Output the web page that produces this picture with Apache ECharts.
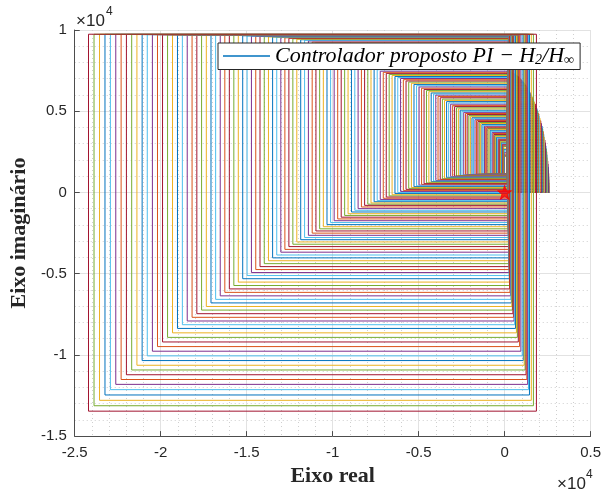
<!DOCTYPE html>
<html><head><meta charset="utf-8">
<script src="https://cdn.jsdelivr.net/npm/echarts@6/dist/echarts.min.js"></script>
<style>html,body{margin:0;padding:0;background:#fff}#c{width:604px;height:492px}</style>
</head><body><div id="c"></div>
<script>
// Each closed curve (inner -> outer): left edge x, top y, bottom y, right edge x
const leftX = [
-1,-4,-10,-17,-27,-39,-53,-69,-87,-108,
-130,-155,-182,-211,-242,-275,-311,-348,-388,-430,
-474,-521,-569,-620,-672,-727,-784,-843,-905,-968,
-1034,-1101,-1171,-1243,-1318,-1394,-1472,-1553,-1636,-1721,
-1808,-1897,-1989,-2082,-2178,-2276,-2376,-2478,-2582,-2689,
-2798,-2908,-3021,-3136,-3254,-3373,-3495,-3618,-3744,-3872,
-4002,-4135,-4269,-4406,-4544,-4685,-4828,-4974,-5121,-5270,
-5422,-5576,-5732,-5890,-6050,-6213,-6377,-6544,-6713,-6884,
-7057,-7232,-7410,-7589,-7771,-7955,-8141,-8329,-8520,-8712,
-8907,-9104,-9303,-9504,-9707,-9913,-10120,-10330,-10542,-10756,
-10972,-11191,-11411,-11633,-11858,-12085,-12315,-12546,-12779,-13015,
-13252,-13492,-13734,-13978,-14225,-14473,-14724,-14976,-15231,-15488,
-15748,-16009,-16272,-16538,-16806,-17076,-17348,-17623,-17899,-18177,
-18458,-18741,-19025,-19313,-19602,-19894,-20188,-20484,-20782,-21081,
-21384,-21688,-21995,-22303,-22614,-22927,-23242,-23559,-23879,-24200];
const topY = [
2210,2240,2300,2370,2470,2550,2630,2720,2830,2910,
2945,2980,3025,3065,3110,3160,3210,3255,3300,3350,
3400,3455,3510,3570,3630,3695,3760,3830,3885,3930,
3980,4030,4080,4135,4190,4245,4305,4365,4425,4480,
4540,4600,4665,4730,4795,4860,4930,4995,5065,5140,
5210,5285,5360,5435,5510,5590,5665,5745,5830,5910,
5990,6060,6125,6200,6270,6340,6415,6495,6570,6650,
6720,6795,6865,6940,7015,7075,7140,7200,7265,7330,
7395,7465,7555,7645,7735,7830,7920,8015,8110,8215,
8315,8420,8530,8635,8745,8855,8935,9000,9065,9125,
9190,9255,9325,9370,9400,9430,9460,9490,9520,9550,
9560,9570,9580,9590,9605,9615,9625,9635,9645,9660,
9670,9680,9682,9684,9686,9688,9690,9692,9694,9696,
9698,9700,9702,9704,9706,9708,9711,9713,9715,9717,
9719,9722,9724,9726,9728,9731,9733,9735,9738,9740];
const bottomY = [
1150,1150,1150,1150,1149,1149,1149,1148,1148,1148,
1147,1146,1146,1145,1145,1144,1143,1142,1141,1140,
1139,1138,1137,1136,1135,1133,1132,1131,1129,1128,
1127,1125,1123,1122,1120,1118,1117,1115,1113,1111,
1109,1107,1105,1103,1100,1089,1075,1060,1045,1030,
1014,999,983,966,940,907,874,840,806,771,
736,700,663,626,586,542,496,450,403,356,
308,252,189,126,62,-3,-71,-141,-212,-284,
-356,-429,-501,-573,-647,-721,-796,-896,-998,-1100,
-1204,-1309,-1416,-1523,-1631,-1741,-1854,-1982,-2110,-2240,
-2371,-2505,-2639,-2774,-2910,-3048,-3188,-3334,-3505,-3678,
-3852,-4028,-4205,-4384,-4566,-4748,-4932,-5117,-5312,-5519,
-5729,-5939,-6152,-6366,-6583,-6801,-7020,-7242,-7465,-7688,
-7914,-8143,-8372,-8644,-8923,-9205,-9489,-9774,-10062,-10350,
-10639,-10929,-11223,-11516,-11815,-12140,-12468,-12797,-13131,-13465];
const rightX = [
150,150,150,150,150,150,150,150,150,150,
150,150,150,150,150,150,150,150,150,150,
150,150,150,150,150,150,150,150,150,150,
150,150,150,150,150,150,150,150,150,150,
151,151,151,151,151,151,151,152,152,152,
152,153,153,153,154,154,155,155,156,157,
157,158,159,159,160,161,162,162,163,164,
165,166,167,168,169,170,171,173,174,175,
176,178,179,180,182,183,184,186,188,190,
191,193,195,196,198,200,202,204,206,208,
210,212,214,216,219,221,224,228,232,236,
240,244,248,253,257,261,266,270,275,280,
285,290,314,341,368,395,423,451,483,515,
548,588,633,687,742,797,871,947,1023,1087,
1140,1193,1247,1293,1340,1391,1446,1554,1676,1850];
// Stair corners along the arc in the upper right
const arcX = [2599,2596,2592,2586,2578,2568,2556,2543,2528,2511,2493,2473,2451,2427,2402,2375,2347,2317,2285,2252,
2217,2181,2143,2103,2063,2021,1977,1932,1886,1838,1790,1740,1689,1636,1583,1528,1473,1416,1359,1300,
1241,1180,1119,1058,995,932,868,803,738,673,607,541,474,407,339,272,204];
const arcY = [196,393,588,784,979,1173,1367,1559,1751,1941,2130,2318,2504,2688,2870,3051,3229,3405,3579,3750,
3919,4085,4248,4408,4566,4720,4871,5018,5163,5303,5440,5574,5703,5829,5950,6068,6181,6290,6395,6495,
6591,6683,6769,6852,6929,7002,7070,7133,7191,7244,7293,7336,7374,7408,7436,7459,7477];
const starPoint = [[0, 0]];
const xTicks = [-25000, -20000, -15000, -10000, -5000, 0, 5000];
const yTicks = [-15000, -10000, -5000, 0, 5000, 10000];
const LEG = 'Controlador proposto PI - H2/Hinf';

const colors = ['#0072BD','#D95319','#EDB120','#7E2F8E','#77AC30','#4DBEEE','#A2142F'];
const N = leftX.length;
const series = [];
const base = rightX[0];
for (let i = 0; i < arcX.length; i++) {
  series.push({type:'line', silent:true, symbol:'none', animation:false, z:2,
    lineStyle:{width:1, color: colors[(i*3) % 7]},
    data:[[base, arcY[i]], [arcX[i], arcY[i]], [arcX[i], 0], [base, 0]]});
}
for (let i = 0; i < N; i++) {
  const c = colors[(((6 + 2*(i-(N-1))) % 7) + 7) % 7];
  series.push({type:'line', silent:true, symbol:'none', animation:false, z:2,
    lineStyle:{width:1, color:c},
    data:[[rightX[i], bottomY[i]], [leftX[i], bottomY[i]], [leftX[i], topY[i]], [rightX[i], topY[i]], [rightX[i], bottomY[i]]]});
}
series.push({type:'scatter', silent:true, animation:false, z:5, data:starPoint,
  symbol:'path://M50,0 L61,35 L98,35 L68,57 L79,91 L50,70 L21,91 L32,57 L2,35 L39,35 Z',
  symbolSize:14, itemStyle:{color:'#ff0000', borderColor:'#ff0000', borderWidth:1}});
series.push({name:LEG, type:'line', data:[], symbol:'none', color:'#0072BD', lineStyle:{width:1, color:'#0072BD'}});

const fmt = v => String(+(v/1e4).toFixed(1));
const axisCommon = {
  axisLine:{show:true, onZero:false, lineStyle:{color:'#4d4d4d', width:1}},
  axisTick:{show:true, inside:true, length:5, lineStyle:{color:'#4d4d4d'}},
  splitLine:{show:true, lineStyle:{color:'#e2e2e2', width:1}},
  minorTick:{show:false, splitNumber:5},
  minorSplitLine:{show:true, lineStyle:{color:'#cfcfcf', width:1, type:[1,3]}},
};
const chart = echarts.init(document.getElementById('c'), null, {renderer:'canvas'});
chart.setOption({
  animation:false,
  backgroundColor:'#fff',
  grid:{left:74, right:9, top:30, bottom:50, containLabel:false},
  xAxis:Object.assign({type:'value', min:xTicks[0], max:xTicks[xTicks.length-1], interval:xTicks[1]-xTicks[0],
    axisLabel:{formatter:fmt, color:'#262626', fontSize:15, fontFamily:'Liberation Sans', margin:9, hideOverlap:false},
    name:'Eixo real', nameLocation:'middle', nameGap:27,
    nameTextStyle:{fontFamily:'Liberation Serif', fontWeight:'bold', fontSize:22, color:'#262626'}}, axisCommon),
  yAxis:Object.assign({type:'value', min:yTicks[0], max:yTicks[yTicks.length-1], interval:yTicks[1]-yTicks[0],
    axisLabel:{formatter:fmt, color:'#262626', fontSize:15, fontFamily:'Liberation Sans', margin:8},
    name:'Eixo imaginário', nameLocation:'middle', nameGap:40,
    nameTextStyle:{fontFamily:'Liberation Serif', fontWeight:'bold', fontSize:22, color:'#262626'}}, axisCommon),
  legend:{
    data:[{name:LEG, icon:'rect'}], left:218, top:43, orient:'horizontal',
    backgroundColor:'#fff', borderColor:'#262626', borderWidth:1, borderRadius:0,
    padding:[2,6,2,5], itemWidth:47, itemHeight:1.3, itemGap:0,
    formatter:() => '{a|Controlador proposto PI \u2212 H}{s|2}{a|/H}{s|\u221e}',
    textStyle:{rich:{
      a:{fontFamily:'Liberation Serif', fontStyle:'italic', fontSize:22, color:'#000', lineHeight:23},
      s:{fontFamily:'Liberation Serif', fontStyle:'italic', fontSize:14, color:'#000', lineHeight:10, verticalAlign:'bottom'}
    }}
  },
  graphic:[
    {type:'text', left:76, top:13, style:{text:'\u00d710', fontSize:17, fontFamily:'Liberation Sans', fill:'#262626'}},
    {type:'text', left:106, top:6, style:{text:'4', fontSize:12, fontFamily:'Liberation Sans', fill:'#262626'}},
    {type:'text', left:557, top:476, style:{text:'\u00d710', fontSize:17, fontFamily:'Liberation Sans', fill:'#262626'}},
    {type:'text', left:586, top:469, style:{text:'4', fontSize:12, fontFamily:'Liberation Sans', fill:'#262626'}}
  ],
  series:series
});
</script></body></html>
